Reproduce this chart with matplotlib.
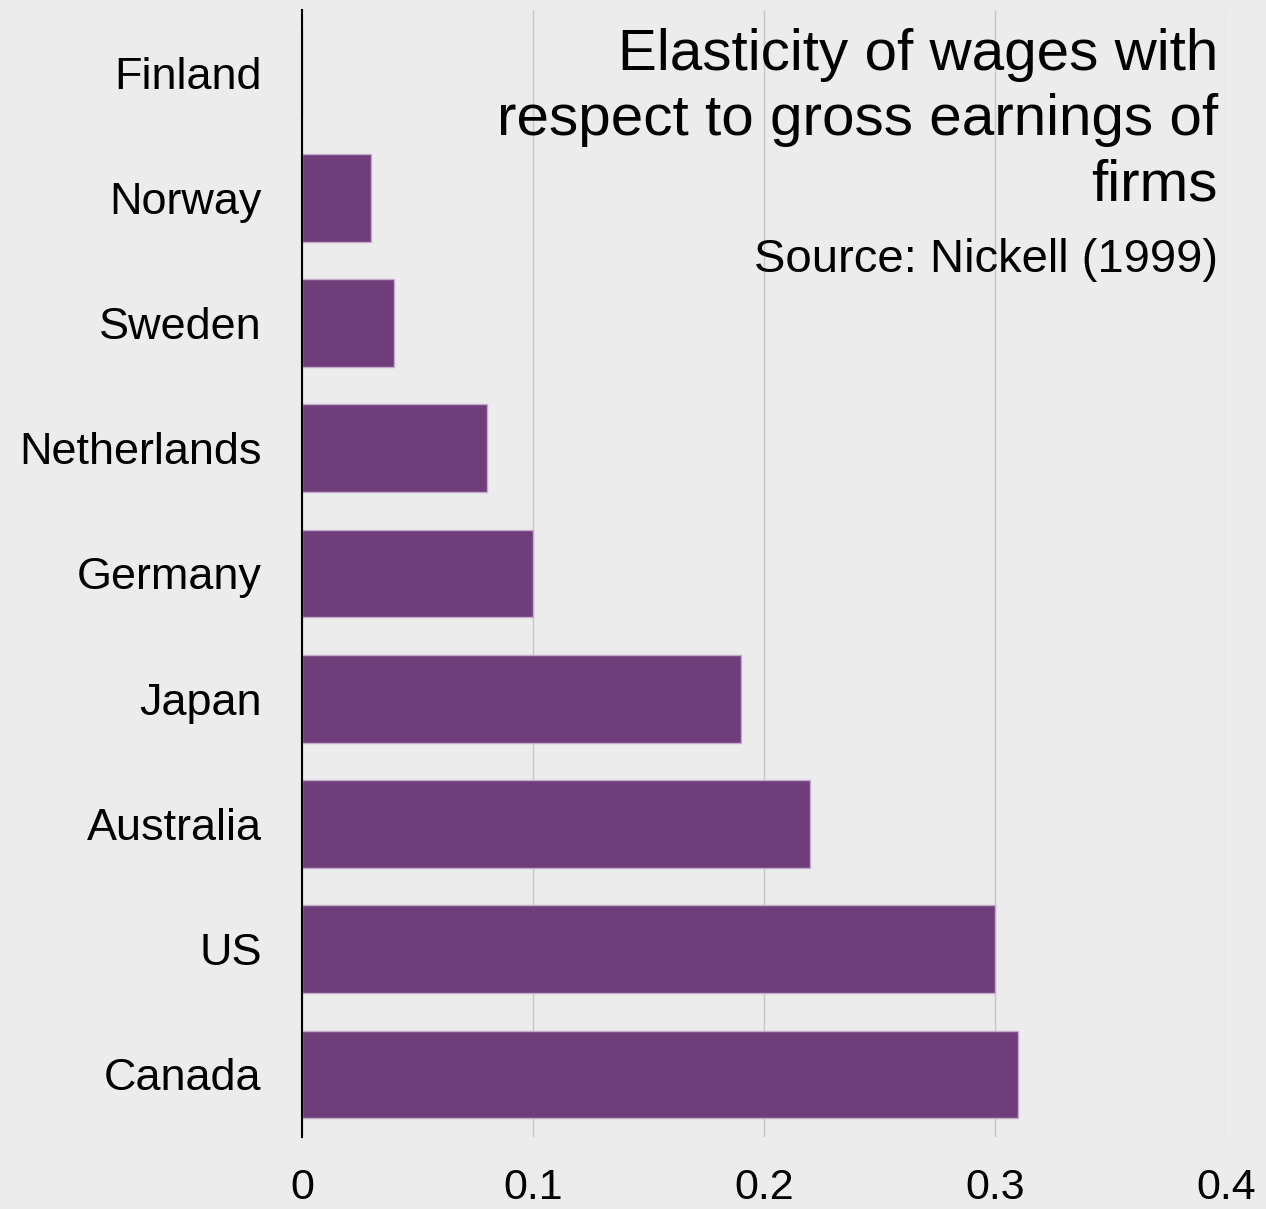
import matplotlib.pyplot as plt

countries = ["Finland", "Norway", "Sweden", "Netherlands", "Germany",
             "Japan", "Australia", "US", "Canada"]
elasticity = [0.0, 0.03, 0.04, 0.08, 0.10, 0.19, 0.22, 0.30, 0.31]
xticks = [0, 0.1, 0.2, 0.3, 0.4]
xtick_labels = ["0", "0.1", "0.2", "0.3", "0.4"]

title = "Elasticity of wages with\nrespect to gross earnings of\nfirms"
source = "Source: Nickell (1999)"

bg = "#ececec"
bar_color = "#6f3d79"

plt.rcParams["font.family"] = ["Liberation Sans", "DejaVu Sans"]

fig = plt.figure(figsize=(12.66, 12.09), dpi=100, facecolor=bg)
ax = fig.add_axes([302 / 1266, 1 - 1137 / 1209, 924 / 1266, 1127 / 1209])
ax.set_facecolor(bg)

ypos = list(range(len(countries)))
ax.barh(ypos, elasticity, height=0.7, color=bar_color,
        edgecolor="#c4aacb", linewidth=1, zorder=3)

ax.set_xlim(0, 0.4)
ax.set_ylim(len(countries) - 0.5, -0.5)
ax.set_xticks(xticks)
ax.set_xticklabels(xtick_labels, fontsize=31)
ax.set_yticks(ypos)
ax.set_yticklabels(countries, fontsize=32.4)

ax.grid(axis="x", color="#c8c8c8", linewidth=1, zorder=0)
ax.tick_params(axis="x", length=0, pad=22)
ax.tick_params(axis="y", length=0, pad=29)
for side in ["top", "right", "bottom"]:
    ax.spines[side].set_visible(False)
ax.spines["left"].set_color("black")
ax.spines["left"].set_linewidth(1.5)
ax.spines["left"].set_zorder(4)

fig.text(1218 / 1266, 1 - 28 / 1209, title, ha="right", va="top",
         fontsize=42, linespacing=1.27)
fig.text(1218 / 1266, 1 - 238 / 1209, source, ha="right", va="top",
         fontsize=34)

fig.savefig("out.png", dpi=100, facecolor=bg)
